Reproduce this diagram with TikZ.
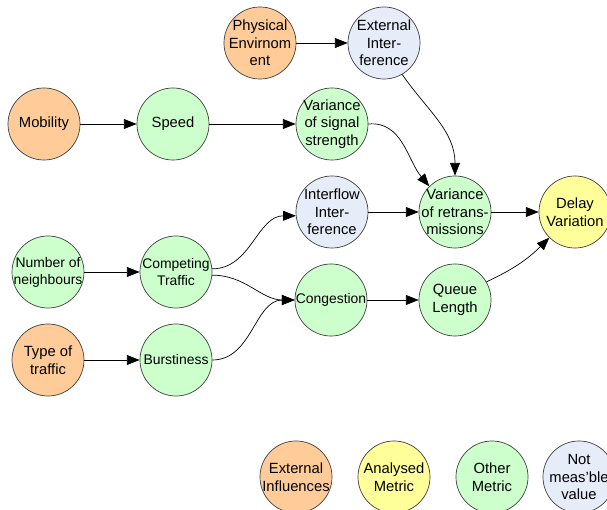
\documentclass[tikz,border=0pt]{standalone}
\usepackage{fontspec}
\setmainfont{Liberation Sans}
\usepackage{tikz}
\usepackage{xcolor}
\usetikzlibrary{arrows.meta}
\definecolor{extern}{HTML}{FFCC99}
\definecolor{analysed}{HTML}{FFFF99}
\definecolor{other}{HTML}{CCFFCC}
\definecolor{notmeas}{HTML}{E6ECF8}

\begin{document}
\begin{tikzpicture}[x=0.025cm, y=-0.025cm,
    bubble/.style={circle, draw=black!75, line width=0.5pt, minimum size=1.8cm, inner sep=0pt},
    txt/.style={align=center, font=\fontsize{10.5}{12.5}\selectfont},
    smalltxt/.style={align=center, font=\fontsize{9.9}{12}\selectfont},
    lbl/.style={label={[txt]center:{#1}}},
    slbl/.style={label={[smalltxt]center:{#1}}},
    ext/.style={bubble, fill=extern},
    ana/.style={bubble, fill=analysed},
    oth/.style={bubble, fill=other},
    nmv/.style={bubble, fill=notmeas},
    link/.style={-{Triangle[length=9pt,width=7pt]}, line width=0.5pt}]
    \useasboundingbox (0,0) rectangle (607,510);
    % influences and metrics
    \node[ext, lbl={Physical\\Envirnom\\ent}] (phys) at (260,43) {};
    \node[nmv, lbl={External\\Inter-\\ference}] (extif) at (384,43) {};
    \node[ext, lbl={Mobility}] (mob) at (44,124) {};
    \node[oth, lbl={Speed}] (speed) at (173,124) {};
    \node[oth, lbl={Variance\\of signal\\strength}] (varsig) at (332,124) {};
    \node[nmv, lbl={Interflow\\Inter-\\ference}] (interf) at (332,212) {};
    \node[oth, lbl={Variance\\of retrans-\\missions}] (varret) at (455,212) {};
    \node[ana, lbl={Delay\\Variation}] (delay) at (575,212) {};
    \node[oth, slbl={Number of\\neighbours}] (neigh) at (48,272) {};
    \node[oth, slbl={Competing\\Traffic}] (comp) at (176,272) {};
    \node[oth, slbl={Congestion}] (cong) at (331,300) {};
    \node[oth, lbl={Queue\\Length}] (queue) at (455,300) {};
    \node[ext, lbl={Type of\\traffic}] (type) at (48,360) {};
    \node[oth, slbl={Burstiness}] (burst) at (176,360) {};
    % legend
    \node[ext, lbl={External\\Influences}] (legext) at (296,477) {};
    \node[ana, lbl={Analysed\\Metric}] (legana) at (394,477) {};
    \node[oth, lbl={Other\\Metric}] (legoth) at (492,477) {};
    \node[nmv, lbl={Not\\meas'ble\\value}] (legnmv) at (579,477) {};
    % connectors
    \draw[link] (phys) -- (extif);
    \draw[link] (mob) -- (speed);
    \draw[link] (speed) -- (varsig);
    \draw[link] (extif.-60) to[out=-55, in=90] (varret.north);
    \draw[link] (varsig.east) to[out=5, in=130] (varret.135);
    \draw[link] (interf) -- (varret);
    \draw[link] (varret) -- (delay);
    \draw[link] (neigh) -- (comp);
    \draw[link] (comp.5) to[out=0, in=180] (interf.186);
    \draw[link] (comp.-5) to[out=0, in=180] (cong.west);
    \draw[link] (type) -- (burst);
    \draw[link] (burst.east) to[out=0, in=180] (cong.west);
    \draw[link] (cong) -- (queue);
    \draw[link] (queue.30) to[out=25, in=225] (delay.225);
\end{tikzpicture}
\end{document}
